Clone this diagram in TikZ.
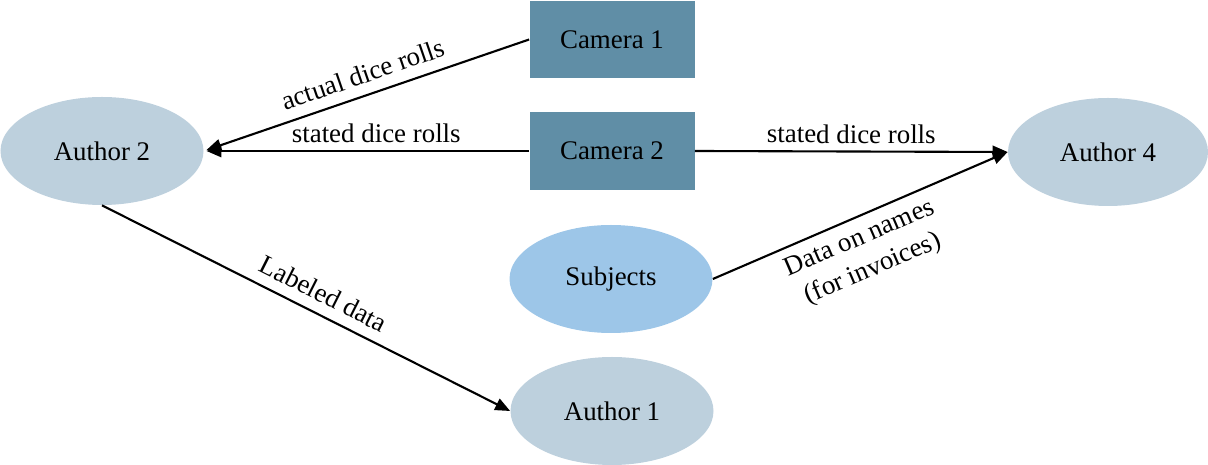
\documentclass[tikz,border=0pt]{standalone}
\usepackage{fontspec}
\setmainfont{Liberation Serif}
\usepackage{tikz}
\usetikzlibrary{arrows.meta,positioning,calc,shapes.geometric}
\definecolor{authorgrey}{RGB}{189,208,221}
\definecolor{subjblue}{RGB}{157,198,232}
\definecolor{camteal}{RGB}{96,142,166}
\newcommand{\lblfont}{\fontsize{15.3}{18}\selectfont}

\begin{document}
\begin{tikzpicture}[
  author/.style={ellipse,fill=authorgrey,inner sep=0pt,
              minimum width=4.06cm,minimum height=2.16cm,font=\lblfont},
  subj/.style={ellipse,fill=subjblue,inner sep=0pt,
              minimum width=4.06cm,minimum height=2.16cm,font=\lblfont},
  cam/.style={rectangle,fill=camteal,inner sep=0pt,
              minimum width=3.3cm,minimum height=1.55cm,font=\lblfont},
  lbl/.style={font=\lblfont,sloped,align=center,inner sep=4pt},
  flow/.style={->,line width=1.2pt},
  >={Triangle[length=8.5pt,width=7pt]}]
\useasboundingbox (0,0) rectangle (24.16,9.3);
\node[author] (au2) at (2.04,6.28) {Author 2};
\node[cam] (cam1) at (12.24,8.51) {Camera 1};
\node[cam] (cam2) at (12.24,6.28) {Camera 2};
\node[author,minimum width=4.0cm] (au4) at (22.16,6.26) {Author 4};
\node[subj] (subj) at (12.22,3.72) {Subjects};
\node[author] (au1) at (12.24,1.08) {Author 1};
\draw[flow,shorten >=1.5pt] (cam1.west) -- node[lbl,above,inner sep=6pt,pos=0.49] {actual dice rolls} (au2.east);
\draw[flow,shorten >=1.5pt] (cam2.west) -- node[lbl,above,pos=0.47] {stated dice rolls} (au2.east);
\draw[flow] (cam2.east) -- node[lbl,above] {stated dice rolls} (au4.west);
\draw[flow] (subj.east) -- node[lbl,below,pos=0.47,inner sep=5pt] {Data on names\\[1pt](for invoices)} (au4.west);
\draw[flow] (au2.south) -- node[lbl,above,pos=0.52,inner sep=6pt] {Labeled data} (au1.west);
\end{tikzpicture}
\end{document}
